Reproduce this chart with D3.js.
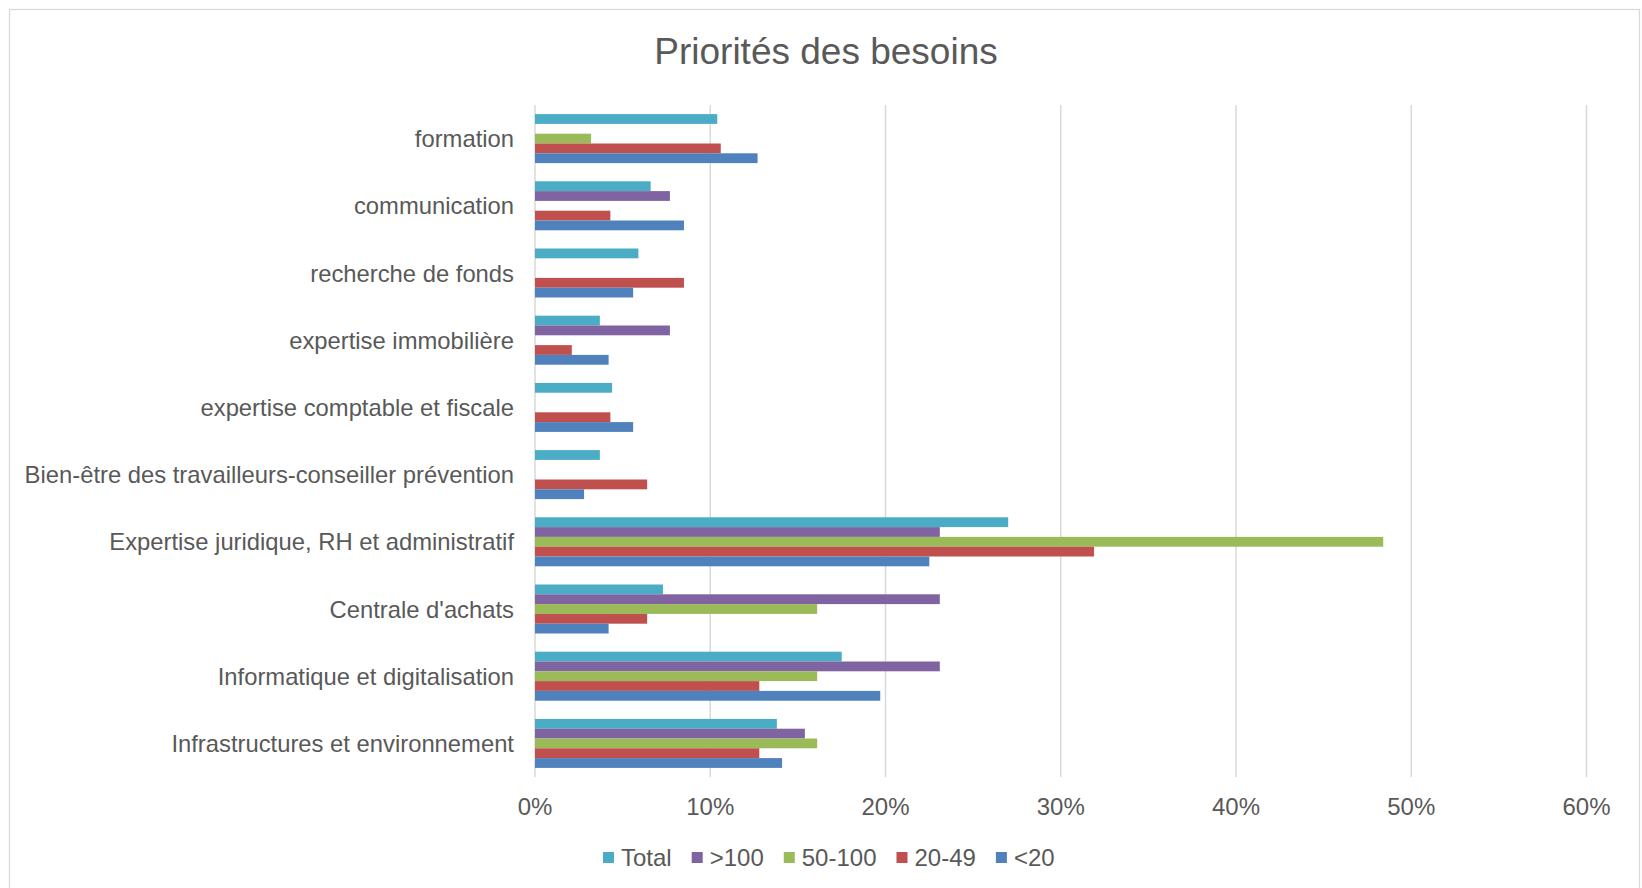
<!DOCTYPE html>
<html>
<head>
<meta charset="utf-8">
<script src="https://cdn.jsdelivr.net/npm/d3@7"></script>
<style>
body { margin: 0; background: #fff; }
text { font-family: Arial, "Liberation Sans", sans-serif; fill: #595959; }
</style>
</head>
<body>
<script>
var categories = ["formation", "communication", "recherche de fonds", "expertise immobilière",
	"expertise comptable et fiscale", "Bien-être des travailleurs-conseiller prévention",
	"Expertise juridique, RH et administratif", "Centrale d'achats",
	"Informatique et digitalisation", "Infrastructures et environnement"];
var seriesNames = ["Total", ">100", "50-100", "20-49", "<20"];
var seriesColors = ["#4BACC6", "#8064A2", "#9BBB59", "#C0504D", "#4F81BD"];
// percentages, one value per category (top to bottom)
var total = [10.4, 6.6, 5.9, 3.7, 4.4, 3.7, 27.0, 7.3, 17.5, 13.8];
var over100 = [0, 7.7, 0, 7.7, 0, 0, 23.1, 23.1, 23.1, 15.4];
var from50to100 = [3.2, 0, 0, 0, 0, 0, 48.4, 16.1, 16.1, 16.1];
var from20to49 = [10.6, 4.3, 8.5, 2.1, 4.3, 6.4, 31.9, 6.4, 12.8, 12.8];
var under20 = [12.7, 8.5, 5.6, 4.2, 5.6, 2.8, 22.5, 4.2, 19.7, 14.1];
var xTicks = [0, 0.1, 0.2, 0.3, 0.4, 0.5, 0.6];

var seriesValues = [total, over100, from50to100, from20to49, under20];

var svg = d3.select("body").append("svg")
	.attr("width", 1642)
	.attr("height", 888);

// chart border
svg.append("rect")
	.attr("x", 9.5).attr("y", 9.5)
	.attr("width", 1630).attr("height", 900)
	.attr("fill", "none")
	.attr("stroke", "#D9D9D9")
	.attr("stroke-width", 1.3);

svg.append("text")
	.attr("x", 826).attr("y", 64)
	.attr("text-anchor", "middle")
	.style("font-size", "37px")
	.text("Priorités des besoins");

var x = d3.scaleLinear().domain([0, 0.6]).range([535, 1586.5]);
var y0 = d3.scaleBand().domain(categories).range([105, 777]);
var y1 = d3.scaleBand().domain(seriesNames).range([9.1, y0.step() - 9.1]);

// gridlines
svg.selectAll("line.grid")
	.data(xTicks)
	.enter()
	.append("line")
	.attr("class", "grid")
	.attr("x1", function (d) { return x(d); })
	.attr("x2", function (d) { return x(d); })
	.attr("y1", 105)
	.attr("y2", 777)
	.attr("stroke", "#D9D9D9")
	.attr("stroke-width", 1.5);

// bars
var groups = svg.selectAll("g.cat")
	.data(categories)
	.enter()
	.append("g")
	.attr("class", "cat")
	.attr("transform", function (d) { return "translate(0," + y0(d) + ")"; });

groups.selectAll("rect")
	.data(function (d, i) {
		return seriesNames.map(function (s, j) { return { s: s, j: j, v: seriesValues[j][i] / 100 }; });
	})
	.enter()
	.append("rect")
	.attr("x", x(0))
	.attr("y", function (d) { return y1(d.s); })
	.attr("height", y1.bandwidth())
	.attr("width", function (d) { return x(d.v) - x(0); })
	.attr("fill", function (d) { return seriesColors[d.j]; });

// category labels
svg.selectAll("text.cat")
	.data(categories)
	.enter()
	.append("text")
	.attr("class", "cat")
	.attr("x", 514)
	.attr("y", function (d) { return y0(d) + y0.bandwidth() / 2; })
	.attr("dy", "0.36em")
	.attr("text-anchor", "end")
	.style("font-size", "23.8px")
	.text(function (d) { return d; });

// x axis labels
svg.selectAll("text.tick")
	.data(xTicks)
	.enter()
	.append("text")
	.attr("class", "tick")
	.attr("x", function (d) { return x(d); })
	.attr("y", 815)
	.attr("text-anchor", "middle")
	.style("font-size", "24px")
	.text(d3.format(".0%"));

// legend
var legend = svg.append("g").attr("transform", "translate(603,0)");
var lx = 0;
seriesNames.forEach(function (s, j) {
	legend.append("rect")
		.attr("x", lx).attr("y", 852)
		.attr("width", 11).attr("height", 11)
		.attr("fill", seriesColors[j]);
	var t = legend.append("text")
		.attr("x", lx + 18).attr("y", 866)
		.style("font-size", "24px")
		.text(s);
	lx += 18 + t.node().getComputedTextLength() + 20;
});
</script>
</body>
</html>
